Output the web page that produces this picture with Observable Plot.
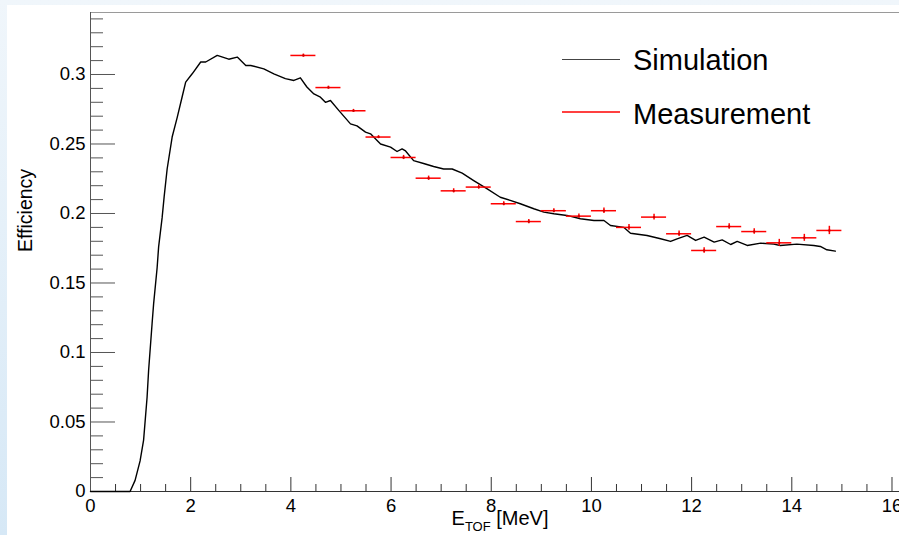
<!DOCTYPE html>
<html><head><meta charset="utf-8">
<script src="https://cdn.jsdelivr.net/npm/d3@7"></script>
<script src="https://cdn.jsdelivr.net/npm/@observablehq/plot@0.6"></script>
<style>
html,body{margin:0;padding:0;}
body{width:899px;height:535px;overflow:hidden;background:linear-gradient(180deg,#f0f6fb 0%,#d6e8f6 100%);font-family:"Liberation Sans",Arial,Helvetica,sans-serif;}
#wrap{position:relative;width:899px;height:535px;}
#panel{position:absolute;left:7px;top:5px;right:0;bottom:0;background:#fff;}
#chart{position:absolute;left:0;top:0;}
.lg-line{position:absolute;left:562px;width:58px;height:1.5px;}
.lg-text{position:absolute;left:633px;font-size:29px;line-height:29px;color:#000;white-space:nowrap;}
</style>
</head><body>
<div id="wrap"><div id="panel"></div><div id="chart"></div>
<div class="lg-line" style="top:58.5px;background:#444;"></div>
<div class="lg-text" style="top:46px;">Simulation</div>
<div class="lg-line" style="top:111px;background:#ff4040;"></div>
<div class="lg-text" style="top:100px;">Measurement</div>
</div>
<script>
// Simulation curve (E_TOF [MeV], efficiency)
const simE = [0, 0.5, 0.79, 0.89, 0.99, 1.06, 1.13, 1.16, 1.23, 1.26, 1.33, 1.36, 1.43, 1.47, 1.53, 1.63, 1.73, 1.83, 1.9, 2.03, 2.2, 2.3, 2.53, 2.76, 2.93, 3.1, 3.2, 3.46, 3.66, 3.89, 4.06, 4.19, 4.32, 4.46, 4.59, 4.69, 4.79, 4.96, 5.19, 5.32, 5.49, 5.59, 5.79, 5.99, 6.12, 6.22, 6.29, 6.45, 6.65, 6.85, 7.05, 7.22, 7.42, 7.65, 7.92, 8.18, 8.38, 8.58, 8.85, 9.05, 9.25, 9.51, 9.78, 10.05, 10.25, 10.38, 10.65, 10.78, 11.11, 11.38, 11.58, 11.71, 11.91, 12.08, 12.25, 12.45, 12.61, 12.78, 12.91, 13.11, 13.38, 13.64, 13.77, 14.1, 14.44, 14.57, 14.7, 14.87];
const simEff = [0, 0, 0, 0.008, 0.022, 0.037, 0.068, 0.087, 0.121, 0.135, 0.161, 0.176, 0.197, 0.212, 0.232, 0.255, 0.269, 0.284, 0.2945, 0.3005, 0.309, 0.309, 0.3137, 0.311, 0.3125, 0.3065, 0.3065, 0.304, 0.3005, 0.297, 0.2957, 0.2976, 0.291, 0.286, 0.2837, 0.280, 0.2813, 0.274, 0.2645, 0.263, 0.2585, 0.2573, 0.250, 0.2477, 0.2446, 0.2465, 0.245, 0.238, 0.236, 0.2338, 0.232, 0.232, 0.229, 0.2237, 0.2177, 0.2117, 0.2094, 0.207, 0.2034, 0.201, 0.1998, 0.1986, 0.1962, 0.195, 0.195, 0.1914, 0.190, 0.1858, 0.1842, 0.1818, 0.1799, 0.1818, 0.1842, 0.1806, 0.183, 0.1794, 0.181, 0.1777, 0.1799, 0.177, 0.1787, 0.178, 0.177, 0.178, 0.177, 0.1763, 0.1739, 0.1729];

// Measurement points (bin centre, efficiency, half bin width, stat. error)
const measE = [4.25, 4.75, 5.25, 5.75, 6.25, 6.75, 7.25, 7.75, 8.25, 8.75, 9.25, 9.75, 10.25, 10.75, 11.25, 11.75, 12.25, 12.75, 13.25, 13.75, 14.25, 14.75];
const measEff = [0.3137, 0.2906, 0.2739, 0.255, 0.2403, 0.2254, 0.2163, 0.219, 0.207, 0.1942, 0.202, 0.1981, 0.202, 0.190, 0.1974, 0.1854, 0.1734, 0.1906, 0.187, 0.1789, 0.1825, 0.1878];
const measXErr = [0.25, 0.25, 0.25, 0.25, 0.25, 0.25, 0.25, 0.25, 0.25, 0.25, 0.25, 0.25, 0.25, 0.25, 0.25, 0.25, 0.25, 0.25, 0.25, 0.25, 0.25, 0.25];
const measYErr = [0.001, 0.001, 0.001, 0.001, 0.0015, 0.0015, 0.0015, 0.0015, 0.0015, 0.0015, 0.0015, 0.0015, 0.002, 0.002, 0.002, 0.002, 0.002, 0.002, 0.002, 0.0025, 0.0025, 0.003];

// Axes
const xDomain = [0, 16.15];
const yDomain = [0, 0.3446];
const xMajorTicks = [0, 2, 4, 6, 8, 10, 12, 14, 16];
const xMinorTicks = [0.5, 1, 1.5, 2.5, 3, 3.5, 4.5, 5, 5.5, 6.5, 7, 7.5, 8.5, 9, 9.5, 10.5, 11, 11.5, 12.5, 13, 13.5, 14.5, 15, 15.5];
const yMajorTicks = [0, 0.05, 0.1, 0.15, 0.2, 0.25, 0.3];
const yTickLabels = ["0", "0.05", "0.1", "0.15", "0.2", "0.25", "0.3"];
const yMinorTicks = [0.01, 0.02, 0.03, 0.04, 0.06, 0.07, 0.08, 0.09, 0.11, 0.12, 0.13, 0.14, 0.16, 0.17, 0.18, 0.19, 0.21, 0.22, 0.23, 0.24, 0.26, 0.27, 0.28, 0.29, 0.31, 0.32, 0.33, 0.34];
const xTitleMain = "E", xTitleSub = "TOF", xTitleTail = "\u00a0[MeV]";
const xTitle = xTitleMain + xTitleSub + xTitleTail;
const yTitle = "Efficiency";

const sim = simE.map((e, i) => ({e, eff: simEff[i]}));
const meas = measE.map((e, i) => ({e, eff: measEff[i], xe: measXErr[i], ye: measYErr[i]}));

const W = 899, H = 535, mL = 90, mR = 0, mT = 12, mB = 44;
const plotW = W - mL - mR, plotH = H - mT - mB;
const font = "'Liberation Sans', Arial, Helvetica, sans-serif";

const chart = Plot.plot({
  width: W, height: H,
  marginLeft: mL, marginRight: mR, marginTop: mT, marginBottom: mB,
  style: {background: "transparent", fontFamily: font, color: "#000", overflow: "visible"},
  x: {domain: xDomain, axis: null},
  y: {domain: yDomain, axis: null},
  marks: [
    Plot.ruleY([yDomain[1]], {stroke: "#9a9a9a", strokeWidth: 1}),
    Plot.tickX(xMajorTicks, {x: d => d, insetTop: plotH - 14, stroke: "#333"}),
    Plot.tickX(xMinorTicks, {x: d => d, insetTop: plotH - 7, stroke: "#333"}),
    Plot.tickY(yMajorTicks, {y: d => d, insetRight: plotW - 25, stroke: "#555"}),
    Plot.tickY(yMinorTicks, {y: d => d, insetRight: plotW - 13, stroke: "#555"}),
    Plot.axisX({ticks: xMajorTicks, tickSize: 0, tickPadding: 7, fontSize: 18.5, label: null}),
    Plot.axisY({ticks: yMajorTicks, tickFormat: d => yTickLabels[yMajorTicks.indexOf(d)], tickSize: 0, tickPadding: 5, fontSize: 18.5, label: null}),
    Plot.ruleX([xDomain[0]], {stroke: "#555"}),
    Plot.ruleY([yDomain[0]], {stroke: "#333"}),
    Plot.line(sim, {x: "e", y: "eff", stroke: "#000", strokeWidth: 1.4}),
    Plot.ruleY(meas, {y: "eff", x1: d => d.e - d.xe, x2: d => d.e + d.xe, stroke: "#ff0000", strokeWidth: 1.5}),
    Plot.ruleX(meas, {x: "e", y1: d => d.eff - d.ye, y2: d => d.eff + d.ye, stroke: "#ff0000", strokeWidth: 1.5}),
    Plot.dot(meas, {x: "e", y: "eff", r: 1.2, fill: "#d00000"}),
    Plot.text([yTitle], {frameAnchor: "left", dx: -65, rotate: -90, fontSize: 19.5}),
    Plot.text([xTitle], {frameAnchor: "bottom", dy: 33, dx: 5, fontSize: 20})
  ]
});
document.getElementById("chart").appendChild(chart);

// Subscript for the x-axis title
d3.select(chart).selectAll("text").filter(function() { return this.textContent === xTitle; })
  .each(function() {
    const t = d3.select(this);
    t.text("");
    t.append("tspan").text(xTitleMain);
    t.append("tspan").attr("font-size", 13).attr("dy", 6).text(xTitleSub);
    t.append("tspan").attr("dy", -6).text(xTitleTail);
  });
</script>
</body></html>
